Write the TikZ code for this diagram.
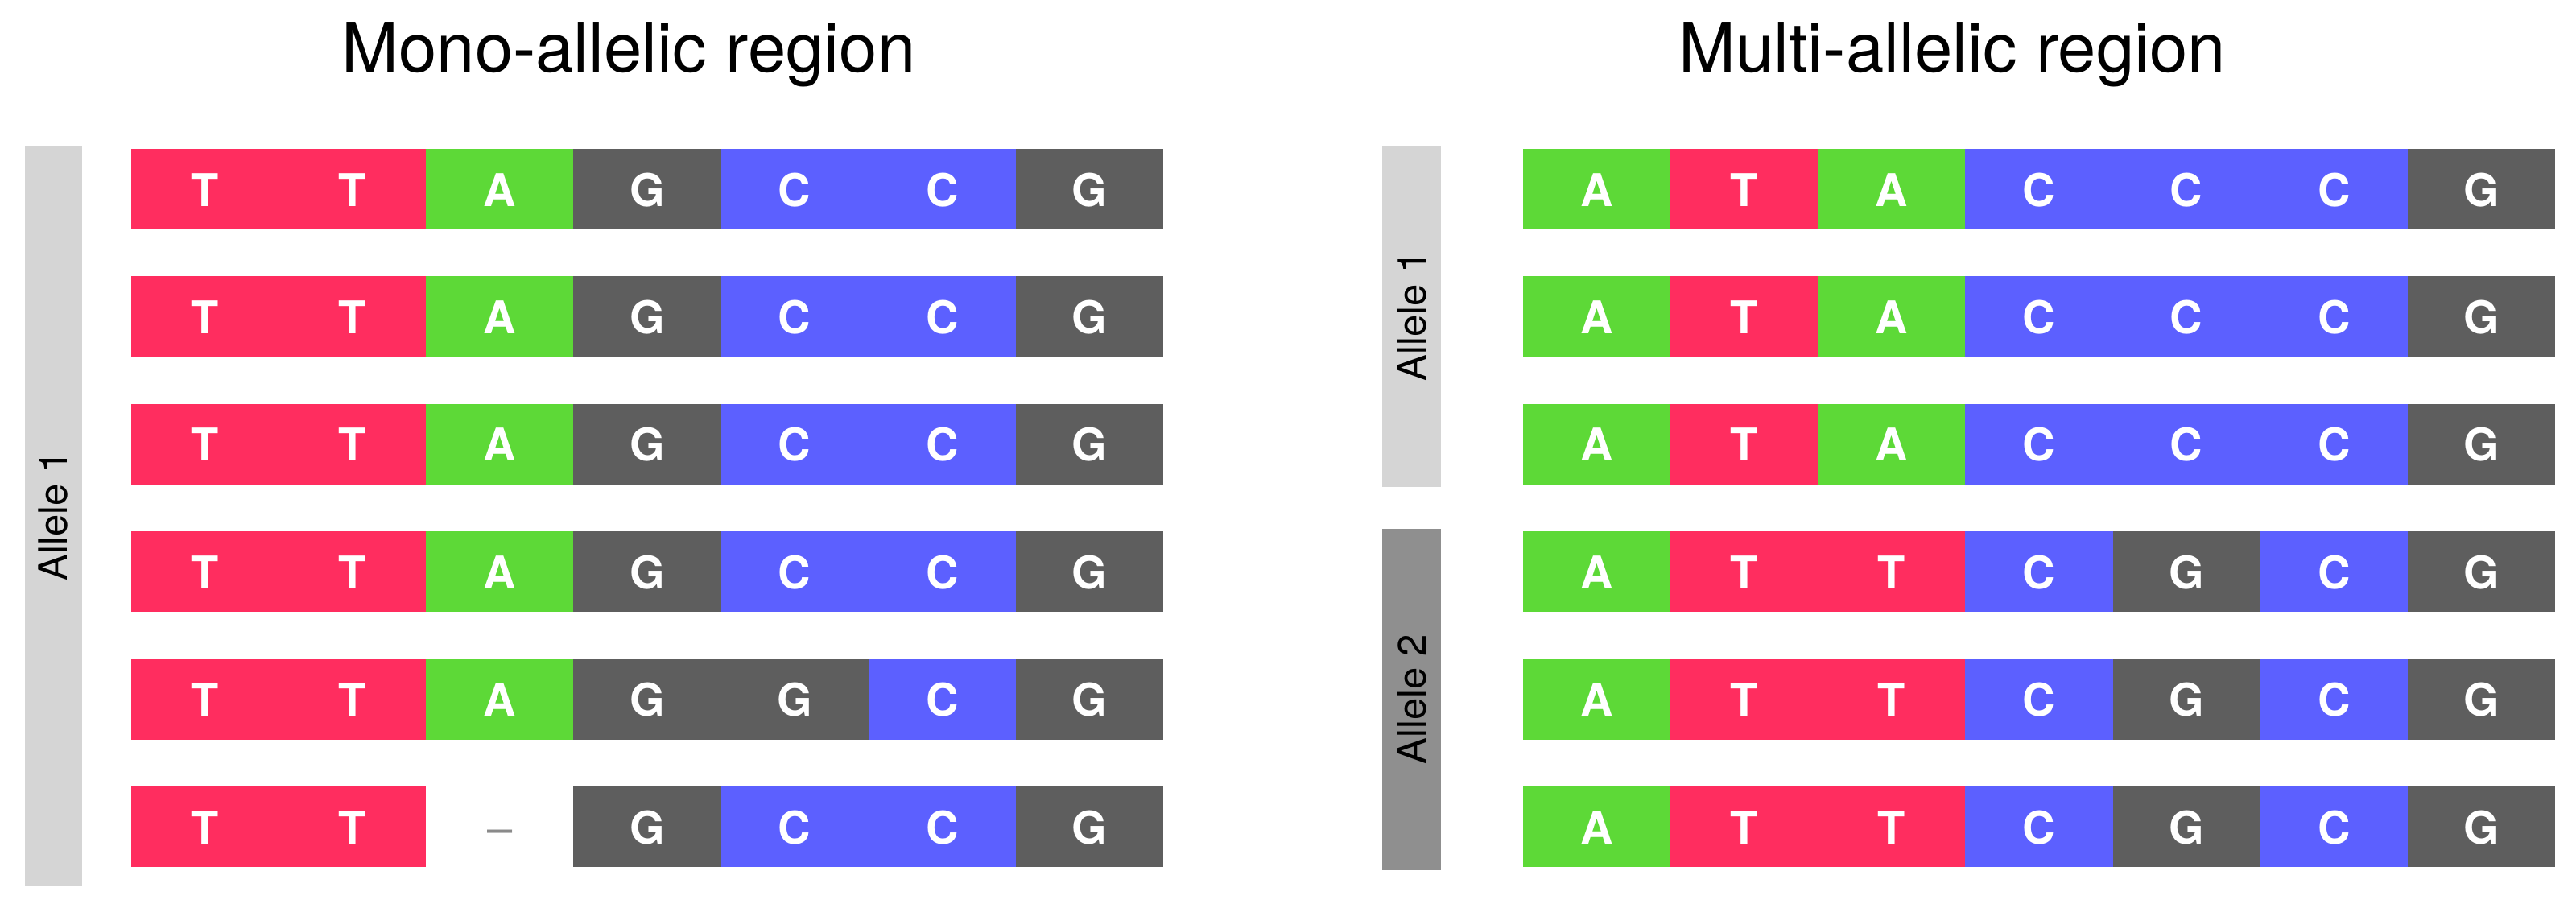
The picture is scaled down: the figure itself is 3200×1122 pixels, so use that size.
\documentclass[tikz,border=0pt]{standalone}
\usepackage{fontspec}
\setmainfont{TeX Gyre Heros}
\definecolor{tred}{HTML}{FF2D5F}
\definecolor{tgreen}{HTML}{5DD937}
\definecolor{cblue}{HTML}{5C60FF}
\definecolor{gdark}{HTML}{5E5E5E}
\definecolor{barone}{HTML}{D5D5D5}
\definecolor{bartwo}{HTML}{8F8F8F}
\definecolor{dashgray}{HTML}{8A8A8A}
\newcommand\cwid{183.15}
% #1 row name, #2 x0, #3 top y, #4 blocks start/ncols/colour, #5 letters
\newcommand\seqrow[5]{%
  \pgfmathsetmacro\rowtop{#3}%
  \foreach \bs/\bn/\bc in {#4} {\fill[fill=\bc] ({#2+\bs*\cwid},{\rowtop}) rectangle ({#2+(\bs+\bn)*\cwid},{\rowtop+100});}
  \foreach \L [count=\i from 0] in {#5} {\node[letter] (#1-\i) at ({#2+(\i+0.5)*\cwid},{\rowtop+71}) {\L};}
}
\begin{document}
\begin{tikzpicture}[x=1pt,y=-1pt,
  letter/.style={anchor=base,inner sep=0pt,text=white,font=\fontsize{56}{60}\selectfont\bfseries},
  title/.style={anchor=base,inner sep=0pt,font=\fontsize{85}{90}\selectfont},
  allele/.style={rotate=90,inner sep=0pt,font=\fontsize{49}{52}\selectfont}]
\fill[white] (0,0) rectangle (3200,1122);
\useasboundingbox (0,0) rectangle (3200,1122);

% titles
\node[title] (tmono) at (781,89) {Mono-allelic region};
\node[title] (tmulti) at (2425,89) {Multi-allelic region};

% left panel
\fill[barone] (31,181) rectangle (102,1101);
\node[allele] (la1) at (66.5,641) {Allele 1};
\foreach \r in {1,2,3,4}{
  \seqrow{L\r}{163}{185+158.4*(\r-1)}{0/2/tred,2/1/tgreen,3/1/gdark,4/2/cblue,6/1/gdark}{T,T,A,G,C,C,G}
}
\seqrow{L5}{163}{185+158.4*4}{0/2/tred,2/1/tgreen,3/2/gdark,5/1/cblue,6/1/gdark}{T,T,A,G,G,C,G}
\seqrow{L6}{163}{185+158.4*5}{0/2/tred,3/1/gdark,4/2/cblue,6/1/gdark}{T,T,{\mdseries\color{dashgray}–},G,C,C,G}

% right panel
\fill[barone] (1717,181) rectangle (1790,605);
\node[allele] (ra1) at (1753.5,393) {Allele 1};
\fill[bartwo] (1717,657) rectangle (1790,1081);
\node[allele] (ra2) at (1753.5,869) {Allele 2};
\foreach \r in {1,2,3}{
  \seqrow{R\r}{1892}{185+158.4*(\r-1)}{0/1/tgreen,1/1/tred,2/1/tgreen,3/3/cblue,6/1/gdark}{A,T,A,C,C,C,G}
}
\foreach \r in {4,5,6}{
  \seqrow{R\r}{1892}{185+158.4*(\r-1)}{0/1/tgreen,1/2/tred,3/1/cblue,4/1/gdark,5/1/cblue,6/1/gdark}{A,T,T,C,G,C,G}
}
\end{tikzpicture}
\end{document}
